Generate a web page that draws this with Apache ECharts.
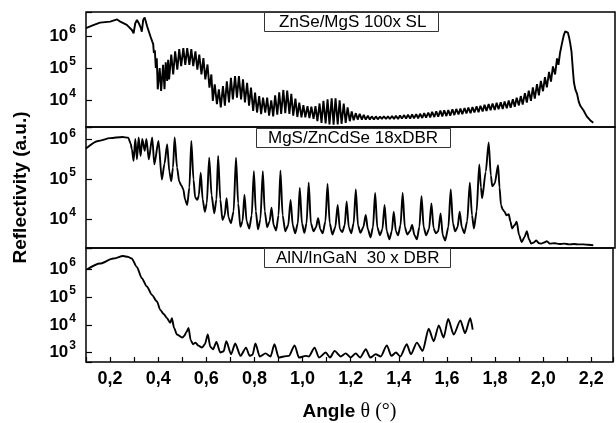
<!DOCTYPE html>
<html>
<head>
<meta charset="utf-8">
<script src="https://cdn.jsdelivr.net/npm/echarts@6/dist/echarts.min.js"></script>
<style>
  html, body { margin: 0; padding: 0; background: #fff; }
  #main { width: 616px; height: 423px; }
</style>
</head>
<body>
<div id="main"></div>
<script>
// Curves as [angle, log10(reflectivity)] pairs
const slCurve = [
  [0.1,6.24],[0.13,6.33],[0.158,6.41],[0.2,6.44],[0.229,6.51],[0.242,6.44],[0.269,6.34],[0.29,6.18],[0.297,6.08],
  [0.304,6.39],[0.311,6.49],[0.318,6.4],[0.322,6.45],[0.327,6.25],[0.331,6.13],[0.337,6.5],[0.343,6.57],[0.349,6.52],
  [0.353,6.3],[0.357,6.24],[0.361,6.3],[0.367,5.98],[0.374,5.83],[0.378,5.75],[0.381,5.47],[0.385,5.55],[0.389,5.0],
  [0.393,5.3],[0.397,4.34],[0.405,5.0],[0.411,4.29],[0.419,5.1],[0.425,4.34],[0.43,5.18],[0.436,4.6],[0.44,5.26],[0.444,4.65],
  [0.453,5.42],[0.461,4.8],[0.469,5.52],[0.478,4.95],[0.486,5.59],[0.494,5.06],[0.503,5.62],[0.511,5.1],[0.519,5.62],
  [0.528,5.1],[0.536,5.59],[0.544,5.06],[0.553,5.52],[0.561,4.95],[0.569,5.42],[0.578,4.8],[0.586,5.31],[0.594,4.65],
  [0.603,5.11],[0.611,4.39],[0.619,4.8],[0.625,3.98],[0.633,4.49],[0.642,3.88],[0.65,4.34],[0.658,3.78],[0.667,4.44],
  [0.675,3.83],[0.683,4.59],[0.692,3.93],[0.7,4.7],[0.708,4.03],[0.717,4.75],[0.725,4.08],[0.733,4.75],[0.742,4.03],
  [0.75,4.65],[0.758,3.93],[0.767,4.54],[0.775,3.83],[0.783,4.39],[0.792,3.67],[0.8,4.24],[0.808,3.62],[0.817,4.13],
  [0.825,3.57],[0.833,4.08],[0.842,3.62],[0.85,4.08],[0.858,3.52],[0.867,4.0],[0.875,3.5],[0.883,4.15],[0.892,3.55],
  [0.9,4.25],[0.908,3.58],[0.917,4.32],[0.925,3.6],[0.933,4.3],[0.942,3.58],[0.95,4.2],[0.958,3.52],[0.967,4.05],
  [0.975,3.48],[0.983,3.93],[0.992,3.47],[1.0,3.85],[1.008,3.47],[1.017,3.82],[1.025,3.45],[1.033,3.8],[1.042,3.42],
  [1.05,3.82],[1.058,3.35],[1.067,3.9],[1.075,3.3],[1.083,3.98],[1.092,3.28],[1.1,4.03],[1.108,3.25],[1.117,4.06],
  [1.125,3.24],[1.133,4.06],[1.142,3.25],[1.15,4.0],[1.158,3.27],[1.167,3.9],[1.175,3.3],[1.183,3.78],[1.192,3.35],
  [1.2,3.65],[1.208,3.38],[1.217,3.6],[1.225,3.4],[1.233,3.58],[1.242,3.4],[1.25,3.55],[1.258,3.4],[1.267,3.52],
  [1.275,3.4],[1.283,3.5],[1.292,3.4],[1.3,3.5],[1.308,3.41],[1.317,3.49],[1.325,3.42],[1.333,3.5],[1.342,3.42],
  [1.35,3.5],[1.358,3.42],[1.367,3.51],[1.375,3.42],[1.383,3.52],[1.392,3.42],[1.4,3.53],[1.408,3.43],[1.417,3.54],
  [1.425,3.43],[1.433,3.55],[1.442,3.43],[1.45,3.56],[1.458,3.44],[1.467,3.57],[1.475,3.44],[1.483,3.58],[1.492,3.45],
  [1.5,3.6],[1.508,3.46],[1.517,3.62],[1.525,3.47],[1.533,3.64],[1.542,3.48],[1.55,3.66],[1.558,3.49],[1.567,3.68],
  [1.575,3.5],[1.583,3.69],[1.592,3.51],[1.6,3.7],[1.608,3.52],[1.617,3.72],[1.625,3.54],[1.633,3.73],[1.642,3.56],
  [1.65,3.74],[1.658,3.57],[1.667,3.76],[1.675,3.59],[1.683,3.77],[1.692,3.6],[1.7,3.79],[1.708,3.62],[1.717,3.81],
  [1.725,3.63],[1.733,3.83],[1.742,3.65],[1.75,3.86],[1.758,3.67],[1.767,3.88],[1.775,3.69],[1.783,3.9],[1.792,3.7],
  [1.8,3.92],[1.808,3.72],[1.817,3.94],[1.825,3.73],[1.833,3.96],[1.842,3.75],[1.85,3.99],[1.858,3.77],[1.867,4.03],
  [1.875,3.8],[1.883,4.08],[1.892,3.84],[1.9,4.13],[1.908,3.87],[1.917,4.22],[1.925,3.93],[1.933,4.3],[1.942,3.98],
  [1.95,4.4],[1.958,4.05],[1.967,4.5],[1.975,4.15],[1.983,4.6],[1.992,4.28],[2.0,4.72],[2.008,4.4],[2.017,4.88],
  [2.025,4.58],[2.033,5.05],[2.042,4.8],[2.05,5.3],[2.056,5.1],[2.062,5.45],[2.07,5.75],[2.078,6.02],[2.084,6.14],
  [2.089,6.18],[2.095,6.1],[2.1,5.95],[2.105,5.75],[2.11,5.5],[2.115,5.0],[2.12,4.55],[2.126,4.33],[2.133,4.2],
  [2.14,3.95],[2.147,3.82],[2.153,3.85],[2.16,3.68],[2.167,3.72],[2.173,3.5],[2.18,3.55],[2.187,3.38],[2.193,3.4],[2.2,3.3]
];

const dbrCurve = [
  [0.1,5.78],[0.15,5.97],[0.2,6.04],[0.25,6.07],[0.275,6.05],[0.285,5.9],[0.29,5.76],[0.297,5.47],[0.304,6.02],
  [0.311,5.51],[0.318,6.06],[0.326,5.59],[0.333,6.02],[0.343,5.72],[0.35,6.02],[0.36,5.51],[0.374,6.06],[0.383,5.38],
  [0.4,5.97],[0.414,5.0],[0.425,5.4],[0.436,5.89],[0.445,5.2],[0.453,4.96],[0.46,5.3],[0.467,6.06],[0.477,5.3],
  [0.486,4.95],[0.495,4.85],[0.503,4.75],[0.51,4.5],[0.519,4.36],[0.528,4.8],[0.536,5.97],[0.545,5.0],[0.552,4.55],
  [0.561,4.49],[0.567,4.6],[0.575,5.17],[0.583,4.5],[0.592,4.19],[0.6,4.4],[0.61,5.55],[0.62,4.6],[0.631,4.15],
  [0.64,4.5],[0.647,5.59],[0.656,4.5],[0.665,3.98],[0.674,4.1],[0.682,4.53],[0.69,4.05],[0.7,3.9],[0.711,4.2],
  [0.721,5.55],[0.73,4.4],[0.739,3.81],[0.748,3.95],[0.756,4.62],[0.765,3.95],[0.776,3.77],[0.786,4.1],[0.795,5.21],
  [0.803,4.2],[0.812,3.75],[0.822,4.0],[0.832,5.21],[0.84,4.2],[0.85,3.8],[0.86,3.95],[0.868,4.29],[0.877,3.85],
  [0.887,3.72],[0.897,4.1],[0.905,5.22],[0.914,4.1],[0.925,3.7],[0.937,3.85],[0.947,4.49],[0.956,3.85],[0.966,3.65],
  [0.977,3.9],[0.985,4.79],[0.994,3.9],[1.004,3.66],[1.013,3.9],[1.022,4.92],[1.031,3.9],[1.042,3.7],[1.052,3.8],
  [1.061,4.03],[1.07,3.75],[1.08,3.65],[1.091,3.95],[1.1,4.89],[1.109,3.9],[1.12,3.62],[1.132,3.8],[1.142,4.36],
  [1.151,3.75],[1.161,3.68],[1.171,3.85],[1.179,4.45],[1.188,3.8],[1.198,3.65],[1.208,3.9],[1.217,4.75],[1.226,3.85],
  [1.236,3.66],[1.248,3.8],[1.258,4.11],[1.267,3.75],[1.278,3.55],[1.288,3.8],[1.297,4.66],[1.306,3.8],[1.317,3.6],
  [1.327,3.75],[1.336,4.36],[1.345,3.7],[1.356,3.5],[1.366,3.7],[1.374,4.19],[1.383,3.7],[1.392,3.6],[1.402,3.85],
  [1.411,4.66],[1.42,3.8],[1.43,3.62],[1.441,3.7],[1.45,3.86],[1.46,3.6],[1.47,3.5],[1.48,3.8],[1.489,4.58],
  [1.498,3.8],[1.508,3.6],[1.52,3.75],[1.53,4.4],[1.539,3.78],[1.548,3.65],[1.558,3.7],[1.568,4.15],[1.577,3.6],
  [1.587,3.47],[1.6,3.8],[1.61,4.75],[1.619,3.9],[1.628,3.7],[1.638,3.8],[1.647,4.19],[1.656,3.8],[1.666,3.65],
  [1.678,3.95],[1.689,4.92],[1.698,4.1],[1.706,3.77],[1.717,4.2],[1.728,5.38],[1.735,4.8],[1.74,4.53],[1.755,5.2],
  [1.767,5.93],[1.776,5.1],[1.782,4.83],[1.792,4.9],[1.806,5.36],[1.812,4.8],[1.818,4.36],[1.825,4.25],[1.832,4.2],
  [1.841,4.1],[1.85,4.13],[1.857,3.95],[1.864,3.77],[1.874,3.85],[1.883,3.94],[1.893,3.6],[1.904,3.43],[1.915,3.55],
  [1.925,3.7],[1.934,3.5],[1.943,3.39],[1.954,3.42],[1.964,3.47],[1.975,3.4],[1.985,3.39],[1.997,3.42],[2.008,3.45],
  [2.02,3.39],[2.04,3.4],[2.06,3.38],[2.08,3.39],[2.1,3.37],[2.12,3.38],[2.14,3.37],[2.16,3.37],[2.18,3.36],[2.2,3.35]
];

const alnCurve = [
  [0.105,6.0],[0.158,6.21],[0.213,6.39],[0.254,6.48],[0.275,6.45],[0.29,6.39],[0.311,6.09],[0.332,5.68],[0.353,5.38],
  [0.374,5.08],[0.395,4.84],[0.408,4.55],[0.422,4.4],[0.436,4.25],[0.45,4.07],[0.457,4.24],[0.466,3.89],[0.478,3.65],
  [0.5,3.54],[0.508,3.6],[0.518,3.75],[0.526,3.89],[0.535,3.45],[0.545,3.3],[0.555,3.36],[0.567,3.25],[0.582,3.18],
  [0.594,3.3],[0.606,3.65],[0.617,3.2],[0.628,3.12],[0.642,3.38],[0.658,3.0],[0.672,3.05],[0.683,3.41],[0.703,2.94],
  [0.72,3.33],[0.742,2.88],[0.765,3.18],[0.78,2.88],[0.792,2.92],[0.804,3.33],[0.822,2.86],[0.846,2.97],[0.867,2.86],
  [0.883,3.3],[0.901,2.82],[0.922,2.86],[0.943,2.88],[0.967,3.26],[0.985,2.82],[1.013,2.88],[1.026,2.86],[1.05,3.18],
  [1.068,2.82],[1.096,3.0],[1.114,2.82],[1.133,3.06],[1.158,2.86],[1.179,2.97],[1.2,2.82],[1.221,2.97],[1.239,2.82],
  [1.263,3.12],[1.281,2.82],[1.304,2.94],[1.325,2.86],[1.35,3.26],[1.369,2.88],[1.388,3.0],[1.406,2.86],[1.433,3.3],
  [1.45,2.94],[1.475,3.36],[1.499,3.06],[1.524,3.86],[1.545,3.41],[1.566,3.98],[1.586,3.54],[1.605,4.21],[1.628,3.65],
  [1.656,4.16],[1.675,3.7],[1.697,4.24],[1.707,3.83]
];

// Axis ranges (log10) and panel labels
const panelLabels = ['ZnSe/MgS 100x SL', 'MgS/ZnCdSe 18xDBR', 'AlN/InGaN  30 x DBR'];
const logRanges = [[3.17, 6.74], [3.28, 6.32], [2.66, 6.77]];
const angleRange = [0.1, 2.29];

const curves = [slCurve, dbrCurve, alnCurve];
const FONT = 'Liberation Sans, Arial, sans-serif';

let myChart = echarts.init(document.getElementById('main'));

const panels = [
  {top: 12, height: 115},
  {top: 127, height: 121},
  {top: 248, height: 114}
];
const boxes = [
  {left: 264, top: 12, padding: [1, 12, 1, 15]},
  {left: 256, top: 128, padding: [1, 13, 1, 12]},
  {left: 264, top: 248, padding: [1, 11, 1, 12]}
];

function yLabel(v) {
  let e = Math.log10(v);
  let r = Math.round(e);
  if (Math.abs(e - r) > 1e-6) return '';
  return '{b|10}{s|' + r + '}';
}

function xLabel(v) {
  let k = Math.round(v * 10);
  if (Math.abs(v * 10 - k) > 1e-6 || k % 2 !== 0) return '';
  return (k / 10).toFixed(1).replace('.', ',');
}

let option = {
  backgroundColor: '#fff',
  animation: false,
  title: panelLabels.map((t, i) => ({
    text: t,
    left: boxes[i].left,
    top: boxes[i].top,
    padding: boxes[i].padding,
    borderColor: '#333',
    borderWidth: 1,
    backgroundColor: '#fff',
    textStyle: {fontFamily: FONT, fontSize: 17, fontWeight: 'normal', color: '#000', lineHeight: 18}
  })),
  grid: panels.map(p => ({
    left: 86, width: 529, top: p.top, height: p.height,
    show: true, borderColor: '#000', borderWidth: 1.5, backgroundColor: 'transparent'
  })),
  xAxis: panels.map((p, i) => ({
    type: 'value',
    gridIndex: i,
    min: angleRange[0],
    max: angleRange[1],
    interval: 0.1,
    show: i === 2,
    axisLine: {show: false},
    axisTick: {show: true, inside: true, length: 5, lineStyle: {color: '#000', width: 1.2}},
    axisLabel: {formatter: xLabel, color: '#000', fontFamily: FONT, fontWeight: 'bold', fontSize: 18, margin: 8},
    splitLine: {show: false},
    name: i === 2 ? '{a|Angle }{b|θ (°)}' : '',
    nameLocation: 'middle',
    nameGap: 40,
    nameTextStyle: {
      rich: {
        a: {fontFamily: FONT, fontWeight: 'bold', fontSize: 19, color: '#000'},
        b: {fontFamily: 'Liberation Serif, serif', fontSize: 20, color: '#000'}
      }
    }
  })),
  yAxis: panels.map((p, i) => ({
    type: 'log',
    gridIndex: i,
    min: Math.pow(10, logRanges[i][0]),
    max: Math.pow(10, logRanges[i][1]),
    axisLine: {show: false},
    axisTick: {show: true, inside: true, length: 6, lineStyle: {color: '#000', width: 1.2}},
    axisLabel: {
      formatter: yLabel,
      margin: 10,
      rich: {
        b: {fontFamily: FONT, fontWeight: 'bold', fontSize: 17, color: '#000', lineHeight: 17, verticalAlign: 'bottom'},
        s: {fontFamily: FONT, fontWeight: 'bold', fontSize: 12, color: '#000', lineHeight: 12, verticalAlign: 'bottom', padding: [0, 0, 9, 1]}
      }
    },
    splitLine: {show: false},
    name: i === 1 ? 'Reflectivity (a.u.)' : '',
    nameLocation: 'middle',
    nameGap: 56,
    nameTextStyle: {fontFamily: FONT, fontWeight: 'bold', fontSize: 19, color: '#000'}
  })),
  series: curves.map((c, i) => ({
    type: 'line',
    xAxisIndex: i,
    yAxisIndex: i,
    showSymbol: false,
    smooth: i === 0 ? false : 0.25,
    smoothMonotone: 'x',
    lineStyle: {color: '#000', width: 1.9},
    data: c.map(p => [p[0], Math.pow(10, p[1])])
  }))
};

option && myChart.setOption(option);
</script>
</body>
</html>
